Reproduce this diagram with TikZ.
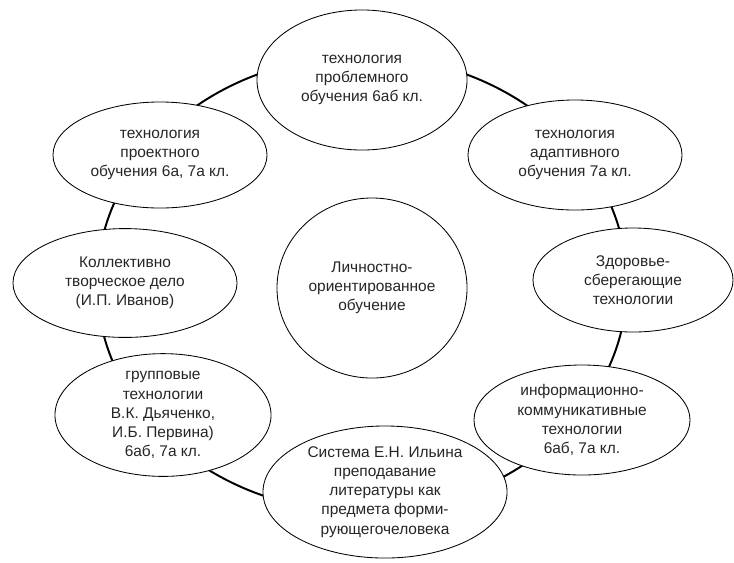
\documentclass[tikz,border=0pt]{standalone}
\usepackage{fontspec}
\setmainfont{Liberation Sans}
\usetikzlibrary{shapes.geometric}
\begin{document}
\begin{tikzpicture}[x=0.025cm, y=-0.025cm,
  tekst/.style = {ellipse, draw, line width=0.6pt, fill=white, inner sep=0pt,
                  align=center, text=black!85, font=\fontsize{11}{13.6}\selectfont},
  ring/.style  = {line width=1.4pt}]
\useasboundingbox (0,0) rectangle (734,562);
%%
%% ring
\draw [ring] (362,284) ellipse [x radius=265, y radius=228];
%%
%% ellipser
\node [tekst, minimum width=5.25cm, minimum height=3.5cm]  (probl)  at (362,80)
      {технология\\проблемного\\обучения 6аб кл.};
\node [tekst, minimum width=5.35cm, minimum height=2.65cm] (proekt) at (160,155)
      {технология\\проектного\\обучения 6а, 7а кл.};
\node [tekst, minimum width=5.35cm, minimum height=2.75cm] (adapt)  at (575,155)
      {технология\\адаптивного\\обучения 7а кл.};
\node [tekst, minimum width=5.6cm, minimum height=2.72cm]  (ktd)    at (125,283)
      {Коллективно\\творческое дело\\(И.П. Иванов)};
\node [tekst, minimum width=5.0cm, minimum height=2.6cm]   (zdorov) at (633,280)
      {Здоровье-\\сберегающие\\технологии};
\node [tekst, minimum width=5.4cm, minimum height=2.65cm]  (grupp)  at (163,415)
      {групповые\\технологии\\В.К. Дьяченко,\\И.Б. Первина)\\6аб, 7а кл.};
\node [tekst, minimum width=5.4cm, minimum height=2.75cm]  (ikt)    at (582,420)
      {информационно-\\коммуникативные\\технологии\\6аб, 7а кл.};
\node [tekst, minimum width=6.1cm, minimum height=3.3cm]   (ilin)   at (385,492)
      {Система Е.Н. Ильина\\преподавание\\литературы как\\предмета форми-\\рующегочеловека};
%%
%% midten
\node [tekst, minimum width=4.75cm, minimum height=4.5cm]  (lichn)  at (372,288)
      {Личностно-\\ориентированное\\обучение};
%%
\end{tikzpicture}
\end{document}
